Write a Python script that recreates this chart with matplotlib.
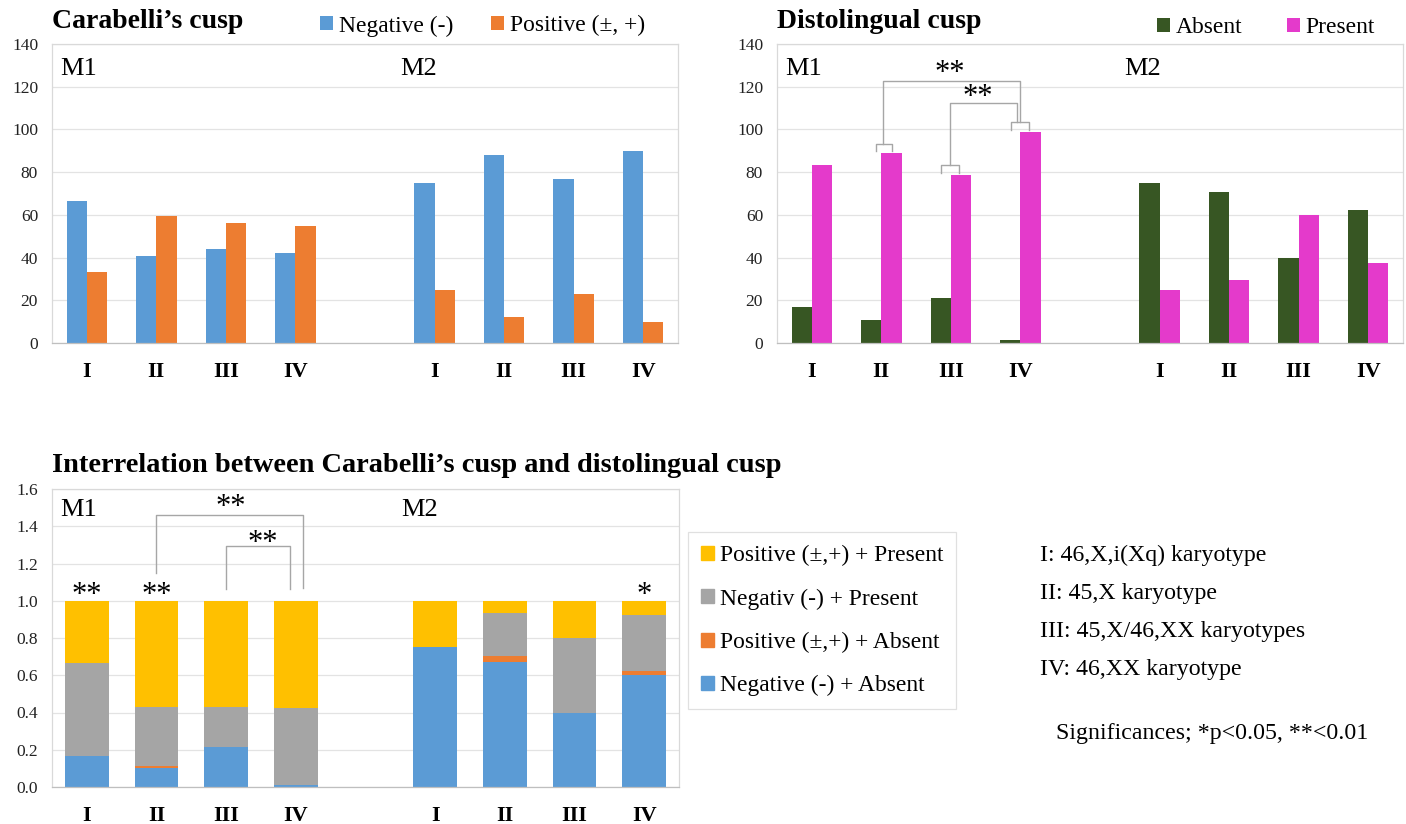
import matplotlib
matplotlib.use("Agg")
import matplotlib.pyplot as plt
from matplotlib.patches import Patch
import numpy as np

plt.rcParams['font.family'] = ['Liberation Serif', 'DejaVu Serif']

# groups: M1 and M2 molars, each with karyotype groups I-IV
groups = ['I', 'II', 'III', 'IV']

# Carabelli's cusp (%)
cara_neg = [66.7, 40.6, 43.8, 42.1, 75.0, 88.0, 76.9, 90.0]
cara_pos = [33.3, 59.4, 56.3, 54.6, 25.0, 12.0, 23.1, 10.0]

# Distolingual cusp (%)
dl_absent = [16.7, 11.0, 21.3, 1.3, 75.0, 70.6, 40.0, 62.5]
dl_present = [83.3, 89.0, 78.7, 98.7, 25.0, 29.4, 60.0, 37.5]

# combined proportions
neg_abs = [0.167, 0.100, 0.214, 0.013, 0.750, 0.670, 0.400, 0.600]
pos_abs = [0.000, 0.012, 0.000, 0.000, 0.000, 0.035, 0.000, 0.025]
neg_pre = [0.500, 0.320, 0.214, 0.410, 0.000, 0.230, 0.400, 0.300]
pos_pre = [0.333, 0.568, 0.572, 0.577, 0.250, 0.065, 0.200, 0.075]

notes = ['I: 46,X,i(Xq) karyotype', 'II: 45,X karyotype',
         'III: 45,X/46,XX karyotypes', 'IV: 46,XX karyotype']

BLUE, ORANGE, GRAY, YELLOW = '#5B9BD5', '#ED7D31', '#A5A5A5', '#FFC000'
GREEN, MAGENTA = '#375623', '#E43ACB'
GRID = '#E3E3E3'

# one empty slot between the M1 and M2 groups
x = np.r_[np.arange(4), np.arange(4) + 5]
labels = groups + groups

fig = plt.figure(figsize=(14.06, 8.24), dpi=100)
W, H = 1406, 824


def make_ax(left, top, right, bottom):
    ax = fig.add_axes([left / W, 1 - bottom / H, (right - left) / W, (bottom - top) / H])
    for s in ax.spines.values():
        s.set_color('#D9D9D9')
        s.set_linewidth(0.9)
    ax.spines['bottom'].set_color('#BFBFBF')
    ax.set_axisbelow(True)
    ax.yaxis.grid(True, color=GRID, lw=0.9)
    ax.tick_params(length=0)
    ax.tick_params(axis='y', labelsize=12.5, pad=10, colors='#222222')
    ax.set_xlim(-0.5, 8.5)
    ax.set_xticks(x)
    ax.set_xticklabels(labels, fontsize=16, fontweight='bold')
    ax.tick_params(axis='x', pad=14)
    return ax


def bracket(ax, pts):
    xs, ys = zip(*pts)
    ax.plot(xs, ys, color='#A6A6A6', lw=1.0, clip_on=False)


leg_kw = dict(loc='lower right', ncol=2, frameon=False, fontsize=16.9,
              handlelength=0.55, handleheight=0.55, handletextpad=0.25,
              borderpad=0, borderaxespad=0)

# --- Carabelli's cusp ---
ax1 = make_ax(52, 44, 678, 343)
bw = 0.29
ax1.bar(x - bw / 2, cara_neg, bw, color=BLUE, label='Negative (-)')
ax1.bar(x + bw / 2, cara_pos, bw, color=ORANGE, label='Positive (±, +)')
ax1.set_ylim(0, 140)
ax1.set_yticks(np.arange(0, 141, 20))
ax1.text(0.013, 0.915, 'M1', transform=ax1.transAxes, fontsize=19, va='center')
ax1.text(0.557, 0.915, 'M2', transform=ax1.transAxes, fontsize=19, va='center')
ax1.legend(bbox_to_anchor=(0.947, 1.025), columnspacing=1.6, **leg_kw)
fig.text(52 / W, 1 - 22 / H, 'Carabelli’s cusp', fontsize=20, fontweight='bold', va='center')

# --- Distolingual cusp ---
ax2 = make_ax(777, 44, 1403, 343)
ax2.bar(x - bw / 2, dl_absent, bw, color=GREEN, label='Absent')
ax2.bar(x + bw / 2, dl_present, bw, color=MAGENTA, label='Present')
ax2.set_ylim(0, 140)
ax2.set_yticks(np.arange(0, 141, 20))
ax2.text(0.013, 0.915, 'M1', transform=ax2.transAxes, fontsize=19, va='center')
ax2.text(0.554, 0.915, 'M2', transform=ax2.transAxes, fontsize=19, va='center')
ax2.legend(bbox_to_anchor=(0.955, 1.02), columnspacing=1.9, **leg_kw)
fig.text(777 / W, 1 - 22 / H, 'Distolingual cusp', fontsize=20, fontweight='bold', va='center')

# significance brackets (II vs IV, III vs IV)
bracket(ax2, [(0.92, 90.0), (0.92, 93.2), (1.16, 93.2), (1.16, 90.0)])
bracket(ax2, [(1.86, 79.8), (1.86, 83.3), (2.12, 83.3), (2.12, 79.8)])
bracket(ax2, [(2.86, 99.6), (2.86, 103.3), (3.13, 103.3), (3.13, 99.6)])
bracket(ax2, [(1.03, 93.2), (1.03, 122.8), (3.0, 122.8), (3.0, 103.3)])
bracket(ax2, [(1.99, 83.3), (1.99, 112.5), (2.95, 112.5), (2.95, 103.3)])
ax2.text(1.99, 126.0, '**', fontsize=22, ha='center', va='center')
ax2.text(2.39, 114.8, '**', fontsize=22, ha='center', va='center')

# --- Interrelation (stacked) ---
ax3 = make_ax(52, 489, 679, 787)
sw = 0.63
b = np.zeros(len(x))
for vals, col in [(neg_abs, BLUE), (pos_abs, ORANGE), (neg_pre, GRAY), (pos_pre, YELLOW)]:
    ax3.bar(x, vals, sw, bottom=b, color=col)
    b = b + np.array(vals)
ax3.set_ylim(0, 1.6)
ax3.set_yticks(np.arange(0, 1.61, 0.2))
ax3.set_yticklabels([f'{v:.1f}' for v in np.arange(0, 1.61, 0.2)])
ax3.text(0.013, 0.93, 'M1', transform=ax3.transAxes, fontsize=19, va='center')
ax3.text(0.557, 0.93, 'M2', transform=ax3.transAxes, fontsize=19, va='center')
bracket(ax3, [(0.99, 1.149), (0.99, 1.459), (3.1, 1.459), (3.1, 1.067)])
bracket(ax3, [(2.0, 1.063), (2.0, 1.296), (2.91, 1.296), (2.91, 1.063)])
ax3.text(2.06, 1.50, '**', fontsize=22, ha='center', va='center')
ax3.text(2.52, 1.31, '**', fontsize=22, ha='center', va='center')
ax3.text(0, 1.03, '**', fontsize=22, ha='center', va='center')
ax3.text(1, 1.03, '**', fontsize=22, ha='center', va='center')
ax3.text(8, 1.03, '*', fontsize=22, ha='center', va='center')
fig.text(52 / W, 1 - 465 / H, 'Interrelation between Carabelli’s cusp and distolingual cusp',
         fontsize=20.4, fontweight='bold', va='center')

handles = [Patch(color=YELLOW, label='Positive (±,+) + Present'),
           Patch(color=GRAY, label='Negativ (-) + Present'),
           Patch(color=ORANGE, label='Positive (±,+) + Absent'),
           Patch(color=BLUE, label='Negative (-) + Absent')]
leg = fig.legend(handles=handles, loc='upper left', bbox_to_anchor=(688 / W, 1 - 532 / H),
                 fontsize=16.9, frameon=True, fancybox=False, edgecolor='#D9D9D9',
                 handlelength=0.55, handleheight=0.55, handletextpad=0.25,
                 labelspacing=0.95, borderpad=0.55, borderaxespad=0)
leg.get_frame().set_linewidth(0.9)

for i, t in enumerate(notes):
    fig.text(1040 / W, 1 - (555 + i * 38) / H, t, fontsize=17.2, va='center')
fig.text(1056 / W, 1 - 733 / H, 'Significances; *p<0.05, **<0.01', fontsize=17.2, va='center')

fig.savefig('out.png', dpi=100)
